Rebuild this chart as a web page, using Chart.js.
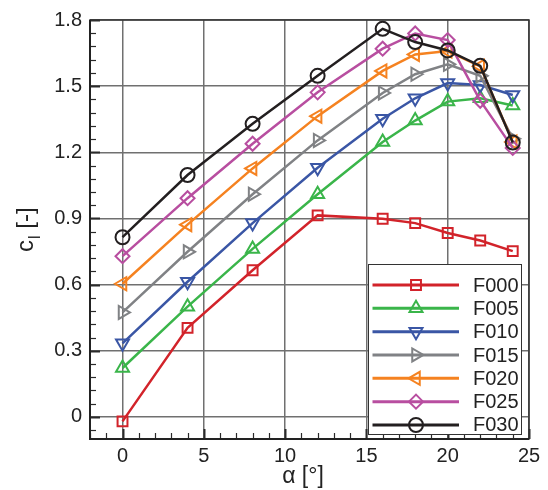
<!DOCTYPE html>
<html>
<head>
<meta charset="utf-8">
<script src="https://cdn.jsdelivr.net/npm/chart.js@4.4.1/dist/chart.umd.min.js"></script>
<style>
  html, body { margin: 0; padding: 0; background: #ffffff; }
  #wrap { width: 548px; height: 490px; position: relative; }
</style>
</head>
<body>
<div id="wrap"><canvas id="c"></canvas></div>
<script>
// ---- data ----
const alpha = [0, 4, 8, 12, 16, 18, 20, 22, 24];
const seriesNames = ['F000', 'F005', 'F010', 'F015', 'F020', 'F025', 'F030'];
const F000 = [-0.020, 0.404, 0.665, 0.914, 0.899, 0.879, 0.834, 0.800, 0.752];
const F005 = [0.222, 0.500, 0.762, 1.010, 1.247, 1.344, 1.430, 1.445, 1.412];
const F010 = [0.334, 0.613, 0.879, 1.130, 1.352, 1.445, 1.514, 1.505, 1.460];
const F015 = [0.474, 0.749, 1.010, 1.254, 1.469, 1.554, 1.599, 1.547, 1.262];
const F020 = [0.604, 0.872, 1.127, 1.364, 1.569, 1.644, 1.659, 1.590, 1.247];
const F025 = [0.729, 0.992, 1.239, 1.472, 1.670, 1.739, 1.709, 1.434, 1.220];
const F030 = [0.815, 1.097, 1.329, 1.547, 1.760, 1.700, 1.662, 1.592, 1.244];
const xTicks = [0, 5, 10, 15, 20, 25];
const xTickLabels = ['0', '5', '10', '15', '20', '25'];
const yTicks = [0, 0.3, 0.6, 0.9, 1.2, 1.5, 1.8];
const yTickLabels = ['0', '0.3', '0.6', '0.9', '1.2', '1.5', '1.8'];

// ---- styles ----
const seriesValues = [F000, F005, F010, F015, F020, F025, F030];
const colors = ['#d2232a', '#3ab54a', '#3a56a5', '#808285', '#f58220', '#b84ea0', '#231f20'];
const styles = ['rect', 'triangle', 'triangle', 'triangle', 'triangle', 'rectRot', 'circle'];
const rotations = [0, 0, 180, 90, 270, 0, 0];
const radii = [7, 7.5, 7.5, 7.5, 7.5, 7, 7];

const datasets = seriesNames.map((name, i) => ({
  label: name,
  data: alpha.map((a, j) => ({ x: a, y: seriesValues[i][j] })),
  showLine: true,
  borderColor: colors[i],
  backgroundColor: colors[i],
  borderWidth: 2.5,
  tension: 0,
  pointStyle: styles[i],
  pointRotation: rotations[i],
  pointRadius: radii[i],
  pointHoverRadius: radii[i],
  pointBorderWidth: 2,
  pointBorderColor: colors[i],
  pointBackgroundColor: 'rgba(0,0,0,0)',
  order: seriesNames.length - 1 - i
}));

const FONT = '"Liberation Sans", Arial, Helvetica, sans-serif';

function drawMarker(ctx, style, rot, r, x, y) {
  ctx.save();
  ctx.translate(x, y);
  ctx.rotate(rot * Math.PI / 180);
  ctx.beginPath();
  if (style === 'circle') {
    ctx.arc(0, 0, r, 0, Math.PI * 2);
  } else if (style === 'rect') {
    const s = r * Math.SQRT1_2;
    ctx.rect(-s, -s, 2 * s, 2 * s);
  } else if (style === 'rectRot') {
    ctx.moveTo(-r, 0); ctx.lineTo(0, -r); ctx.lineTo(r, 0); ctx.lineTo(0, r); ctx.closePath();
  } else {
    for (let k = 0; k < 3; k++) {
      const a = k * 2 * Math.PI / 3;
      const px = Math.sin(a) * r, py = -Math.cos(a) * r;
      if (k === 0) ctx.moveTo(px, py); else ctx.lineTo(px, py);
    }
    ctx.closePath();
  }
  ctx.stroke();
  ctx.restore();
}

const framePlugin = {
  id: 'frame',
  beforeDatasetsDraw(chart) {
    const { ctx, chartArea: ca, scales } = chart;
    const xs = scales.x, ys = scales.y;
    ctx.save();
    ctx.strokeStyle = '#2a2a2a';
    for (let k = -1; k <= 30; k++) {
      const v = k * 0.06;
      if (v < ys.min - 1e-9 || v > ys.max + 1e-9) continue;
      const py = Math.round(ys.getPixelForValue(v)) + 0.5;
      const major = (k % 5 === 0);
      ctx.lineWidth = major ? 2 : 1.2;
      ctx.beginPath();
      ctx.moveTo(ca.left, py);
      ctx.lineTo(ca.left + (major ? 10 : 6), py);
      ctx.stroke();
    }
    for (let k = -2; k <= 25; k++) {
      if (k < xs.min || k > xs.max) continue;
      const px = Math.round(xs.getPixelForValue(k)) + 0.5;
      const major = (k % 5 === 0);
      ctx.lineWidth = major ? 2 : 1.2;
      ctx.beginPath();
      ctx.moveTo(px, ca.bottom);
      ctx.lineTo(px, ca.bottom - (major ? 10 : 6));
      ctx.stroke();
    }
    ctx.lineWidth = 1.5;
    ctx.strokeStyle = '#333333';
    ctx.strokeRect(ca.left, ca.top, ca.right - ca.left, ca.bottom - ca.top);
    ctx.lineWidth = 2;
    ctx.strokeStyle = '#222222';
    ctx.beginPath();
    ctx.moveTo(ca.left, ca.top);
    ctx.lineTo(ca.left, ca.bottom);
    ctx.lineTo(ca.right, ca.bottom);
    ctx.stroke();
    ctx.restore();
  },
  afterDraw(chart) {
    const { ctx } = chart;
    ctx.save();
    ctx.fillStyle = '#222222';
    ctx.font = '23px ' + FONT;
    ctx.textAlign = 'center';
    ctx.textBaseline = 'middle';
    ctx.fillText('α [°]', 303, 477);
    ctx.translate(33, 252);
    ctx.rotate(-Math.PI / 2);
    ctx.textAlign = 'left';
    ctx.textBaseline = 'alphabetic';
    ctx.font = '24px ' + FONT;
    ctx.fillText('c', 0, 0);
    let w = ctx.measureText('c').width;
    ctx.font = '16px ' + FONT;
    ctx.fillText('l', w + 1, 7);
    w += 1 + ctx.measureText('l').width;
    ctx.font = '24px ' + FONT;
    ctx.fillText(' [-]', w, 0);
    ctx.restore();

    ctx.save();
    const L = 368.5, T = 264.5, R = 521.5, B = 434.5;
    ctx.fillStyle = '#ffffff';
    ctx.fillRect(L, T, R - L, B - T);
    ctx.strokeStyle = '#333333';
    ctx.lineWidth = 1;
    ctx.strokeRect(L, T, R - L, B - T);
    chart.data.datasets.forEach((ds, i) => {
      const y = 285 + i * 23.33;
      ctx.strokeStyle = ds.borderColor;
      ctx.lineWidth = 3;
      ctx.beginPath();
      ctx.moveTo(372.5, y);
      ctx.lineTo(459, y);
      ctx.stroke();
      ctx.lineWidth = 2;
      drawMarker(ctx, ds.pointStyle, ds.pointRotation, ds.pointRadius, 416, y);
      ctx.fillStyle = '#222222';
      ctx.font = '20px ' + FONT;
      ctx.textAlign = 'left';
      ctx.textBaseline = 'middle';
      ctx.fillText(ds.label, 473, y + 1);
    });
    ctx.restore();
  }
};

new Chart(document.getElementById('c'), {
  type: 'scatter',
  data: { datasets },
  options: {
    responsive: true,
    maintainAspectRatio: false,
    animation: false,
    layout: { padding: { left: 0, top: 17, right: 19, bottom: 0 } },
    plugins: { legend: { display: false }, tooltip: { enabled: false } },
    scales: {
      x: {
        type: 'linear',
        min: -2,
        max: 25,
        afterFit(scale) { scale.height = 51; },
        afterBuildTicks(scale) { scale.ticks = xTicks.map(v => ({ value: v })); },
        ticks: {
          callback: (v, idx) => xTickLabels[idx],
          font: { size: 20, family: FONT },
          color: '#222222',
          padding: 5,
          maxRotation: 0
        },
        grid: { color: '#707070', lineWidth: 1.5, drawTicks: false },
        border: { display: false },
        title: { display: false }
      },
      y: {
        type: 'linear',
        min: -0.1,
        max: 1.8,
        afterFit(scale) { scale.width = 90; },
        afterBuildTicks(scale) { scale.ticks = yTicks.map(v => ({ value: v })); },
        ticks: {
          callback: (v, idx) => yTickLabels[idx],
          font: { size: 20, family: FONT },
          color: '#222222',
          padding: 8
        },
        grid: { color: '#707070', lineWidth: 1.5, drawTicks: false },
        border: { display: false },
        title: { display: false }
      }
    }
  },
  plugins: [framePlugin]
});
</script>
</body>
</html>
